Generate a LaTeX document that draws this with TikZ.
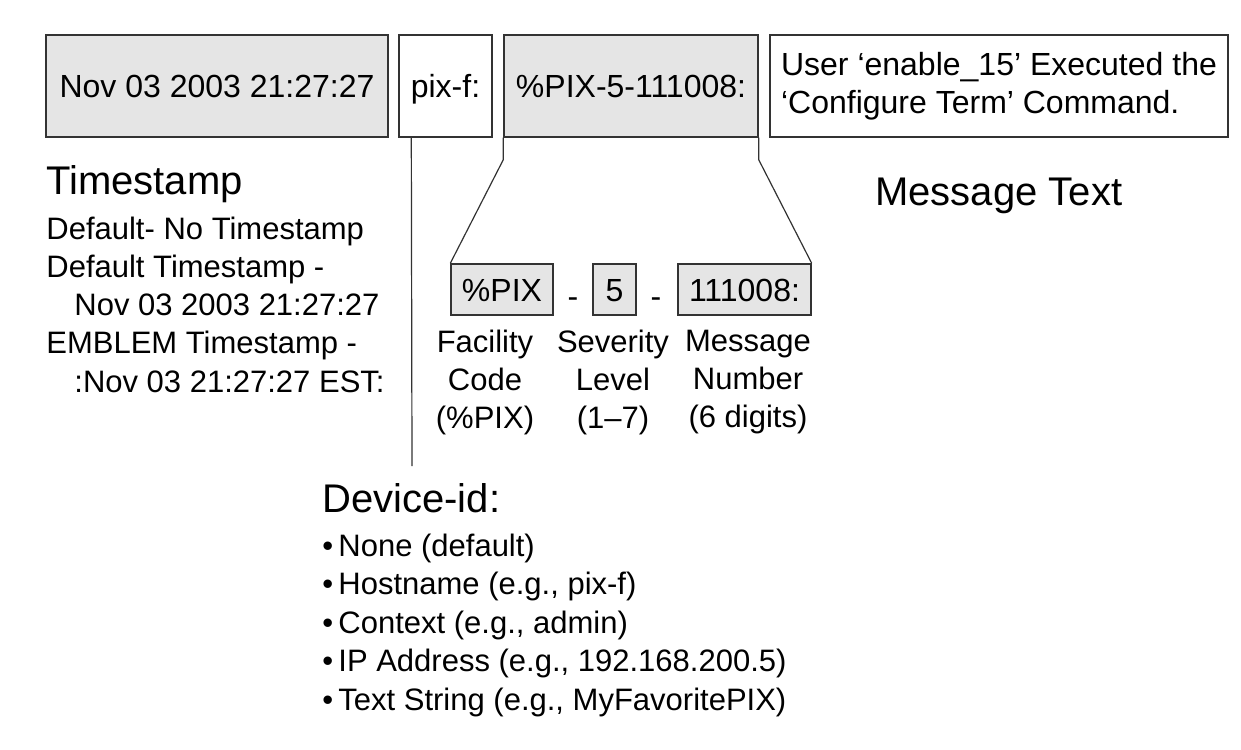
\documentclass[tikz,border=0pt]{standalone}
\usepackage{fontspec}
\setmainfont{Liberation Sans}
\usetikzlibrary{positioning}

\begin{document}
\begin{tikzpicture}
    [x=0.5pt, y=-0.5pt,
     fieldg/.style={rectangle, draw=black!80, fill=black!10, line width=0.7pt, minimum height=51pt, inner sep=2pt},
     fieldw/.style={rectangle, draw=black!80, line width=0.7pt, minimum height=51pt, inner sep=2pt},
     partg/.style={rectangle, draw=black!80, fill=black!10, line width=0.7pt, minimum height=25.5pt, inner sep=1pt,
                   text height=11.5pt, text depth=0pt},
     bt/.style={font=\fontsize{16}{19}\selectfont, text height=11.5pt, text depth=0pt},
     txt/.style={anchor=west, inner sep=0pt, font=\fontsize{15.5}{19}\selectfont, text height=11pt, text depth=0pt},
     head/.style={anchor=west, inner sep=0pt, font=\fontsize{20}{24}\selectfont, text height=14.3pt, text depth=0pt},
     lbl/.style={align=center, inner sep=0pt, font=\fontsize{15.5}{19}\selectfont}]

    \useasboundingbox (0,0) rectangle (1241,749);

    % message fields
    \node [fieldg, bt, minimum width=171pt] (stamp) at (217,86) {Nov 03 2003 21:27:27};
    \node [fieldw, bt, minimum width=46.5pt] (dev) at (445.5,86) {pix-f:};
    \node [fieldg, bt, minimum width=127pt] (code) at (631,86) {\%PIX-5-111008:};
    \node [fieldw, minimum width=229pt, align=left, font=\fontsize{16}{19}\selectfont] (msg) at (999,86) {User `enable\_15' Executed the\\`Configure Term' Command.};

    % parts of the code field
    \node [partg, bt, minimum width=51pt] (fac) at (502,289.5) {\%PIX};
    \node [partg, bt, minimum width=21.5pt] (sev) at (614.5,289.5) {5};
    \node [partg, bt, minimum width=66.5pt] (num) at (744.5,289.5) {111008:};
    \node [bt, inner sep=0pt] (d1) at (573,296) {-};
    \node [bt, inner sep=0pt] (d2) at (656,296) {-};

    \draw [black!80, line width=0.6pt] (code.south west) -- ++(0,22) -- (fac.north west);
    \draw [black!80, line width=0.6pt] (code.south east) -- ++(0,22) -- (num.north east);
    \coordinate (devfoot) at (412,466);
    \draw [black!80, line width=0.6pt] (dev.south west) ++(13,0) -- (devfoot);

    \node [lbl] (facl) at (485,382) {Facility\\Code\\(\%PIX)};
    \node [lbl] (sevl) at (613,382) {Severity\\Level\\(1--7)};
    \node [lbl] (numl) at (748,382) {Message\\Number\\(6 digits)};

    % timestamp
    \node [head] (tsh) at (46,180) {Timestamp};
    \node [txt] (ts1) at (46,228) {Default- No Timestamp};
    \node [txt] (ts2) at (46,266) {Default Timestamp -};
    \node [txt] (ts3) at (74,304) {Nov 03 2003 21:27:27};
    \node [txt] (ts4) at (46,342) {EMBLEM Timestamp -};
    \node [txt] (ts5) at (74,381) {:Nov 03 21:27:27 EST:};

    \node [head] (msgh) at (875,191) {Message Text};

    % device id
    \node [head] (devh) at (322,498) {Device-id:};
    \foreach \y/\t [count=\i] in {545/{None (default)}, 583/{Hostname (e.g., pix-f)}, 622/{Context (e.g., admin)},
                       660/{IP Address (e.g., 192.168.200.5)}, 699/{Text String (e.g., MyFavoritePIX)}}
        \node [txt] (opt\i) at (322,\y) {\textbullet\,\t};
\end{tikzpicture}
\end{document}
